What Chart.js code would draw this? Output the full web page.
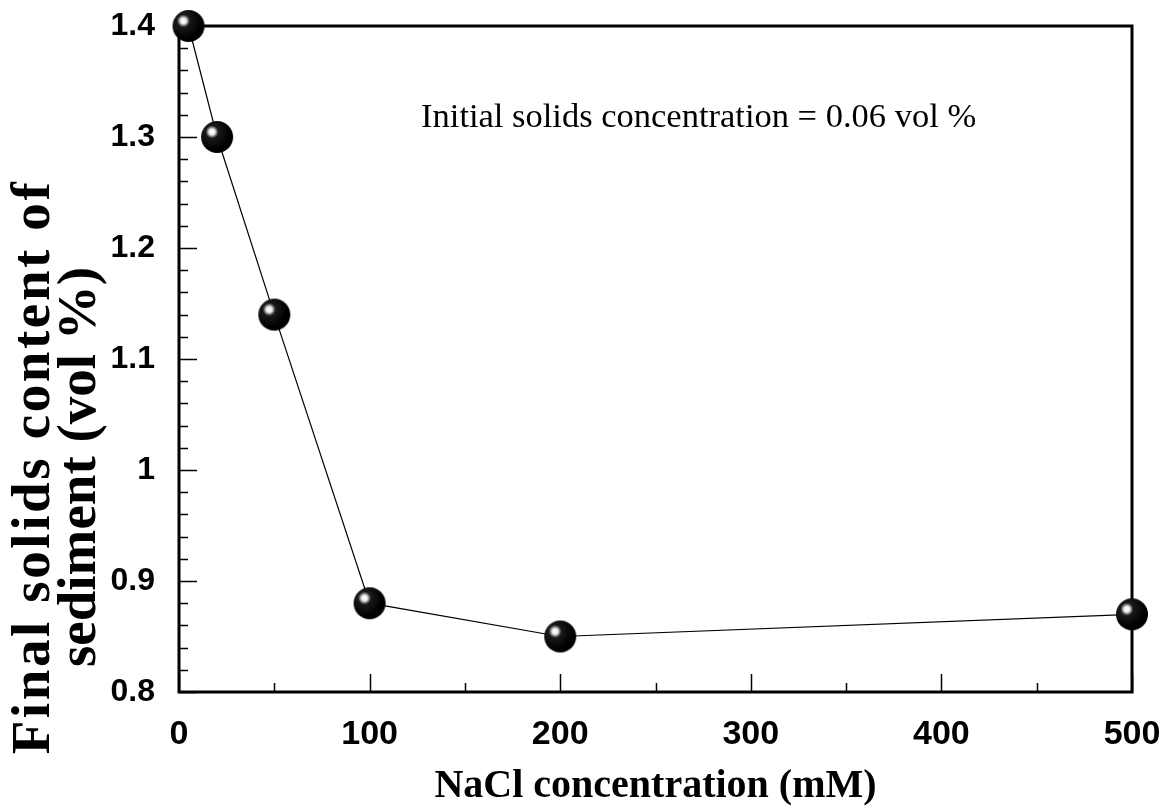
<!DOCTYPE html>
<html>
<head>
<meta charset="utf-8">
<script src="https://cdn.jsdelivr.net/npm/chart.js@4.4.1/dist/chart.umd.min.js"></script>
<style>
  html, body { margin: 0; padding: 0; background: #fff; }
  #wrap { width: 1160px; height: 811px; }
</style>
</head>
<body>
<div id="wrap"><canvas id="chart_sediment"></canvas></div>
<script>
// NaCl concentration (mM) vs final solids content of sediment (vol %)
var naclConc = [5, 20, 50, 100, 200, 500];
var solidsContent = [1.4, 1.3, 1.14, 0.88, 0.85, 0.87];

var xTicks = [0, 100, 200, 300, 400, 500];
var yTicks = [0.8, 0.9, 1.0, 1.1, 1.2, 1.3, 1.4];
var xMinorStep = 50;
var yMinorStep = 0.02;

var xTitle = 'NaCl concentration (mM)';
var yTitle = ['Final solids content of', 'sediment (vol %)'];
var note = 'Initial solids concentration = 0.06 vol %';

// shaded ball used as the point marker
function makeBall(r) {
    var c = document.createElement('canvas');
    c.width = c.height = r * 2 + 2;
    var g = c.getContext('2d');
    var cx = r + 1, cy = r + 1;
    var hx = cx - r * 0.32, hy = cy - r * 0.32;
    var grad = g.createRadialGradient(hx, hy, 0, hx, hy, r * 1.1);
    grad.addColorStop(0, '#ffffff');
    grad.addColorStop(0.16, '#eeeeee');
    grad.addColorStop(0.36, '#1a1a1a');
    grad.addColorStop(1, '#000000');
    g.fillStyle = grad;
    g.beginPath();
    g.arc(cx, cy, r, 0, Math.PI * 2);
    g.fill();
    return c;
}

var frame = {
    id: 'frame',
    beforeDatasetsDraw: function(chart) {
        var ctx = chart.ctx, a = chart.chartArea;
        var xs = chart.scales.x, ys = chart.scales.y;
        ctx.save();
        ctx.strokeStyle = '#000';
        // inward ticks on bottom and left
        ctx.lineWidth = 1.5;
        ctx.beginPath();
        for (var v = xs.min; v <= xs.max + 1e-9; v += xMinorStep) {
            var px = Math.round(xs.getPixelForValue(v)) + 0.5;
            var len = xTicks.indexOf(v) >= 0 ? 18 : 9;
            ctx.moveTo(px, a.bottom);
            ctx.lineTo(px, a.bottom - len);
        }
        var n = Math.round((ys.max - ys.min) / yMinorStep);
        for (var i = 0; i <= n; i++) {
            var yv = ys.min + i * yMinorStep;
            var py = Math.round(ys.getPixelForValue(yv)) + 0.5;
            var ylen = (i % 5 === 0) ? 18 : 9;
            ctx.moveTo(a.left, py);
            ctx.lineTo(a.left + ylen, py);
        }
        ctx.stroke();
        // box
        ctx.lineWidth = 3;
        ctx.strokeRect(a.left, a.top, a.right - a.left, a.bottom - a.top);
        // note text
        ctx.fillStyle = '#000';
        ctx.font = '34.5px "Liberation Serif"';
        ctx.textAlign = 'left';
        ctx.textBaseline = 'middle';
        ctx.fillText(note, xs.getPixelForValue(127), 118);
        // y title, two rotated lines
        ctx.font = 'bold 55px "Liberation Serif"';
        ctx.textAlign = 'center';
        ctx.translate(0, 467);
        ctx.rotate(-Math.PI / 2);
        ctx.letterSpacing = '2.6px';
        ctx.fillText(yTitle[0], 0, 35);
        ctx.letterSpacing = '0px';
        ctx.fillText(yTitle[1], 0, 81);
        ctx.restore();
    }
};

var chart_sediment = new Chart(document.getElementById('chart_sediment'), {
    type: 'line',
    data: {
        datasets: [
            {
                label: 'Final solids content',
                data: naclConc.map(function(x, i) { return {x: x, y: solidsContent[i]}; }),
                borderColor: '#000',
                borderWidth: 1.2,
                pointStyle: makeBall(16),
                pointRadius: 16,
                pointHoverRadius: 16,
                tension: 0,
                clip: false
            }
        ]
    },
    options: {
        animation: false,
        responsive: true,
        maintainAspectRatio: false,
        layout: { autoPadding: false, padding: { top: 26, right: 28, left: 0, bottom: 0 } },
        plugins: {
            legend: { display: false },
            tooltip: { enabled: false }
        },
        scales: {
            x: {
                type: 'linear',
                min: 0,
                max: 500,
                grid: { display: false, drawTicks: false },
                border: { display: false },
                afterBuildTicks: function(scale) {
                    scale.ticks = xTicks.map(function(v) { return {value: v}; });
                },
                afterFit: function(scale) {
                    scale.height = 119;
                    scale.paddingLeft = 0;
                    scale.paddingRight = 0;
                },
                ticks: {
                    color: '#000',
                    padding: 22,
                    font: { family: '"Liberation Sans"', weight: 'bold', size: 34 }
                },
                title: {
                    display: true,
                    text: xTitle,
                    color: '#000',
                    padding: { top: 0, bottom: 0 },
                    font: { family: '"Liberation Serif"', weight: 'bold', size: 40 }
                }
            },
            y: {
                type: 'linear',
                min: 0.8,
                max: 1.4,
                grid: { display: false, drawTicks: false },
                border: { display: false },
                afterBuildTicks: function(scale) {
                    scale.ticks = yTicks.map(function(v) { return {value: v}; });
                },
                afterFit: function(scale) {
                    scale.width = 179;
                    scale.paddingTop = 0;
                    scale.paddingBottom = 0;
                },
                ticks: {
                    color: '#000',
                    padding: 24,
                    font: { family: '"Liberation Sans"', weight: 'bold', size: 32 },
                    callback: function(value) { return String(Number(value.toFixed(2))); }
                }
            }
        }
    },
    plugins: [frame]
});
</script>
</body>
</html>
